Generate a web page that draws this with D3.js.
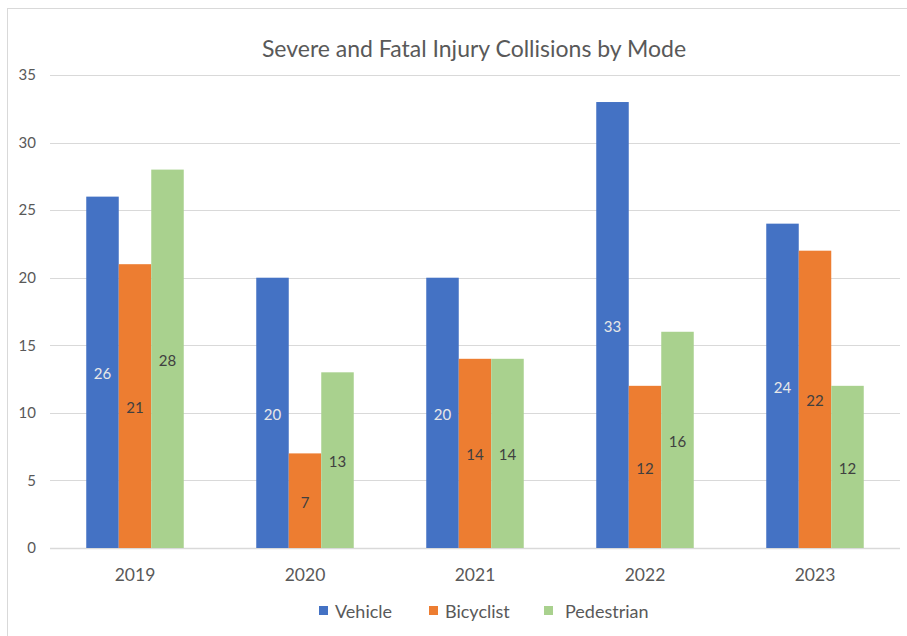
<!DOCTYPE html>
<html>
<head>
<meta charset="utf-8">
<script src="https://cdn.jsdelivr.net/npm/d3@7"></script>
<style>
  body { margin: 0; background: #fff; }
  text { font-family: "Lato", "Open Sans", sans-serif; }
</style>
</head>
<body>
<svg id="chart" width="907" height="636"></svg>
<script>
var years = ["2019", "2020", "2021", "2022", "2023"];
var seriesNames = ["Vehicle", "Bicyclist", "Pedestrian"];
var vehicle = [26, 20, 20, 33, 24];
var bicyclist = [21, 7, 14, 12, 22];
var pedestrian = [28, 13, 14, 16, 12];
var yTicks = [0, 5, 10, 15, 20, 25, 30, 35];

var colors = ["#4472C4", "#ED7D31", "#A9D18E"];
var labelColors = ["#e8e8e8", "#404040", "#404040"];
var values = [vehicle, bicyclist, pedestrian];

var svg = d3.select("#chart");

// рамка области диаграммы
svg.append("rect")
    .attr("x", 7.5).attr("y", 8.5)
    .attr("width", 910).attr("height", 640)
    .attr("fill", "none")
    .attr("stroke", "#d9d9d9");

var plotLeft = 50, plotRight = 900, plotTop = 75, plotBottom = 548;

var x = d3.scaleBand()
    .domain(years)
    .range([plotLeft, plotRight]);

var barW = 32.5;
var xs = d3.scaleBand()
    .domain(seriesNames)
    .range([0, barW * 3]);

var y = d3.scaleLinear()
    .domain([0, 35])
    .range([plotBottom, plotTop]);

// сетка
svg.append("g")
    .selectAll("line")
    .data(yTicks)
    .enter()
    .append("line")
    .attr("x1", plotLeft)
    .attr("x2", plotRight)
    .attr("y1", d => Math.round(y(d)) + 0.5)
    .attr("y2", d => Math.round(y(d)) + 0.5)
    .attr("stroke", "#d9d9d9")
    .attr("stroke-width", d => d === 0 ? 1.5 : 1);

// подписи оси Y
var yAxis = svg.append("g")
    .attr("transform", "translate(" + (plotLeft - 14) + ",0)")
    .call(d3.axisLeft(y).tickValues(yTicks).tickSize(0).tickPadding(0));
yAxis.select(".domain").remove();
yAxis.selectAll("text")
    .attr("fill", "#595959")
    .style("font-size", "15px")
    .style("font-family", "Lato, 'Open Sans', sans-serif");

// подписи оси X
var xAxis = svg.append("g")
    .attr("transform", "translate(0," + plotBottom + ")")
    .call(d3.axisBottom(x).tickSize(0).tickPadding(21));
xAxis.select(".domain").remove();
xAxis.selectAll("text")
    .attr("fill", "#595959")
    .style("font-size", "17.5px")
    .style("font-family", "Lato, 'Open Sans', sans-serif");

// столбцы
var rows = [];
seriesNames.forEach(function (s, si) {
    years.forEach(function (yr, i) {
        rows.push({ series: s, si: si, year: yr, value: values[si][i] });
    });
});

var groupOffset = (x.bandwidth() - barW * 3) / 2;

svg.append("g")
    .selectAll("rect")
    .data(rows)
    .enter()
    .append("rect")
    .attr("x", d => x(d.year) + groupOffset + xs(d.series))
    .attr("y", d => y(d.value))
    .attr("width", xs.bandwidth())
    .attr("height", d => y(0) - y(d.value))
    .attr("fill", d => colors[d.si]);

svg.append("g")
    .selectAll("text")
    .data(rows)
    .enter()
    .append("text")
    .attr("x", d => x(d.year) + groupOffset + xs(d.series) + xs.bandwidth() / 2)
    .attr("y", d => (y(d.value) + y(0)) / 2 + 7)
    .attr("text-anchor", "middle")
    .attr("fill", d => labelColors[d.si])
    .style("font-size", "15px")
    .text(d => d.value);

// заголовок
svg.append("text")
    .attr("x", 474)
    .attr("y", 57)
    .attr("text-anchor", "middle")
    .attr("fill", "#595959")
    .style("font-size", "23px")
    .text("Severe and Fatal Injury Collisions by Mode");

// легенда
var legendX = [319, 429, 544];
var legendTextX = [335, 445, 565];
var legend = svg.append("g")
    .selectAll("g")
    .data(seriesNames)
    .enter()
    .append("g");
legend.append("rect")
    .attr("x", (d, i) => legendX[i])
    .attr("y", 606)
    .attr("width", 9)
    .attr("height", 9)
    .attr("fill", (d, i) => colors[i]);
legend.append("text")
    .attr("x", (d, i) => legendTextX[i])
    .attr("y", 618)
    .attr("fill", "#595959")
    .style("font-size", "18px")
    .text(d => d);
</script>
</body>
</html>
